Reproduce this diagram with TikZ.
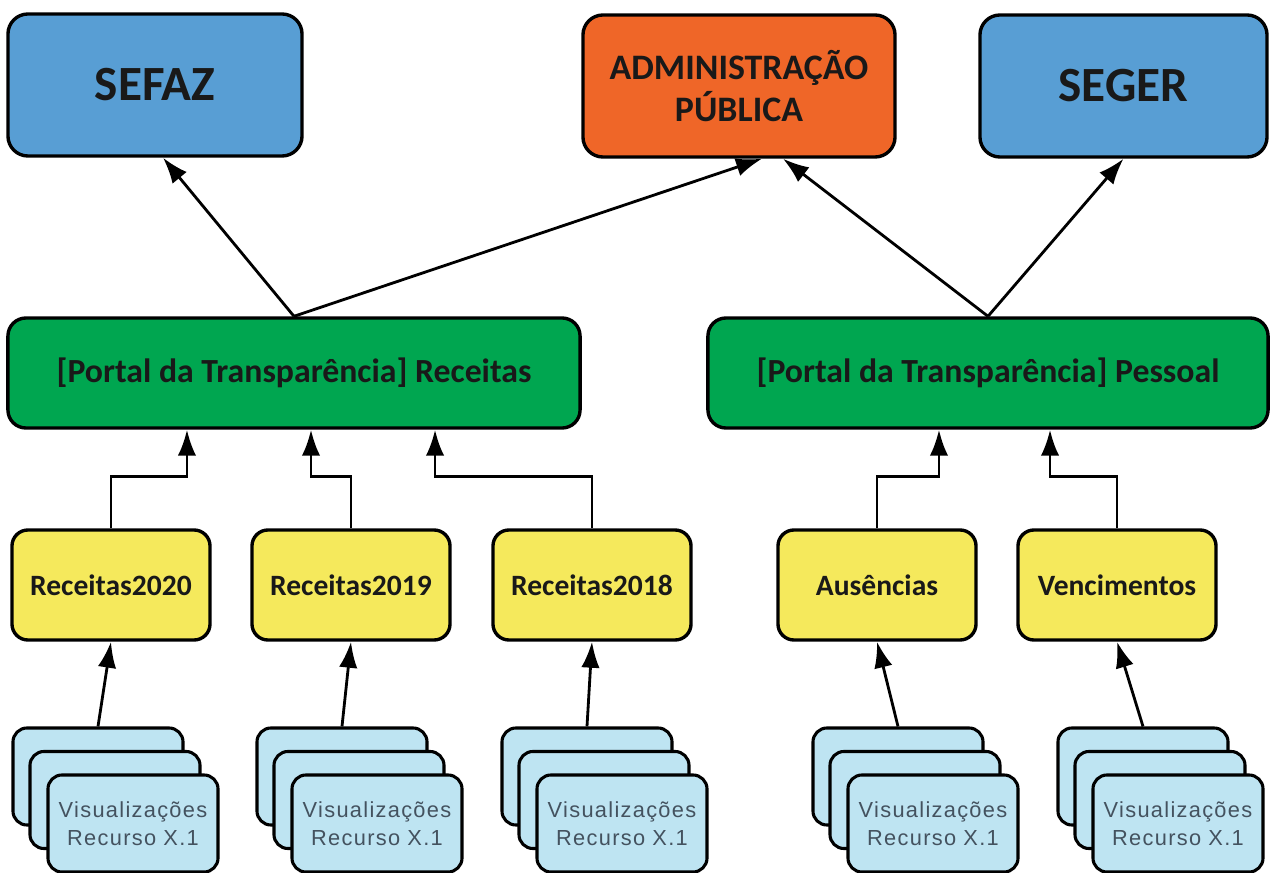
\documentclass[tikz,border=0pt]{standalone}
\usepackage{fontspec}
\setmainfont{Carlito}
\newfontfamily\cardfont[LetterSpace=6]{Liberation Sans}
\usetikzlibrary{arrows.meta}
\definecolor{topblue}{HTML}{589ED4}
\definecolor{adminorange}{HTML}{EF6628}
\definecolor{portalgreen}{HTML}{00A650}
\definecolor{setyellow}{HTML}{F5E95C}
\definecolor{cardblue}{HTML}{BEE4F2}
\definecolor{cardtext}{HTML}{44525F}

\begin{document}
\begin{tikzpicture}[x=0.025cm,y=-0.025cm,
  box/.style={draw,line width=2.4pt,rounded corners=0.5cm,text=black!90,align=center},
  top/.style={box,minimum height=3.55cm},
  portal/.style={box,fill=portalgreen,minimum height=2.75cm,rounded corners=0.45cm,font=\bfseries\fontsize{24}{28}\selectfont},
  set/.style={box,fill=setyellow,minimum width=4.95cm,minimum height=2.75cm,rounded corners=0.4cm,font=\bfseries\fontsize{21}{24}\selectfont},
  card/.style={draw,line width=2.2pt,fill=cardblue,minimum width=4.25cm,minimum height=2.425cm,rounded corners=0.35cm,align=center,text=cardtext,font=\cardfont\fontsize{15.5}{19.5}\selectfont},
  up/.style={-{Latex[length=6.5mm,width=4.6mm]},line width=2pt}]
\useasboundingbox (0,0) rectangle (1272,873);
\node[top,fill=topblue,minimum width=7.35cm,font=\bfseries\fontsize{35}{40}\selectfont] (SEFAZ) at (155,85) {SEFAZ};
\node[top,fill=adminorange,minimum width=7.8cm,font=\bfseries\fontsize{25.5}{30}\selectfont] (ADM) at (739,86) {ADMINISTRAÇÃO\\PÚBLICA};
\node[top,fill=topblue,minimum width=7.175cm,font=\bfseries\fontsize{35}{40}\selectfont] (SEGER) at (1123.5,86) {SEGER};
\node[portal,minimum width=14.3cm] (RecG) at (294,373) {[Portal da Transparência] Receitas};
\node[portal,minimum width=14cm] (PesG) at (988,373) {[Portal da Transparência] Pessoal};
\node[set] (R20) at (111,585) {Receitas2020};
\node[set] (R19) at (351,585) {Receitas2019};
\node[set] (R18) at (592,585) {Receitas2018};
\node[set] (Aus) at (877,585) {Ausências};
\node[set] (Ven) at (1117,585) {Vencimentos};
\foreach \n/\x in {R20/98,R19/342,R18/587,Aus/898,Ven/1143} {
  \node[card] (\n-a) at (\x,776.5) {};
  \node[card] (\n-b) at (\x+17,800) {};
  \node[card] (\n-c) at (\x+35,823.5) {Visualizações\\Recurso X.1};
  \draw[up] (\n-a.north) -- (\n.south);
}
\draw[up] (R20.north) -- ++(0,-52) -| ([xshift=-2.675cm]RecG.south);
\draw[up] (R19.north) -- ++(0,-52) -| ([xshift=0.425cm]RecG.south);
\draw[up] (R18.north) -- ++(0,-52) -| ([xshift=3.525cm]RecG.south);
\draw[up] (Aus.north) -- ++(0,-52) -| ([xshift=-1.225cm]PesG.south);
\draw[up] (Ven.north) -- ++(0,-52) -| ([xshift=1.55cm]PesG.south);
\draw[up] (RecG.north) -- ([xshift=0.2cm]SEFAZ.south);
\draw[up] (RecG.north) -- ([xshift=0.575cm]ADM.south);
\draw[up] (PesG.north) -- ([xshift=1.1cm]ADM.south);
\draw[up] (PesG.north) -- (SEGER.south);
\end{tikzpicture}
\end{document}
